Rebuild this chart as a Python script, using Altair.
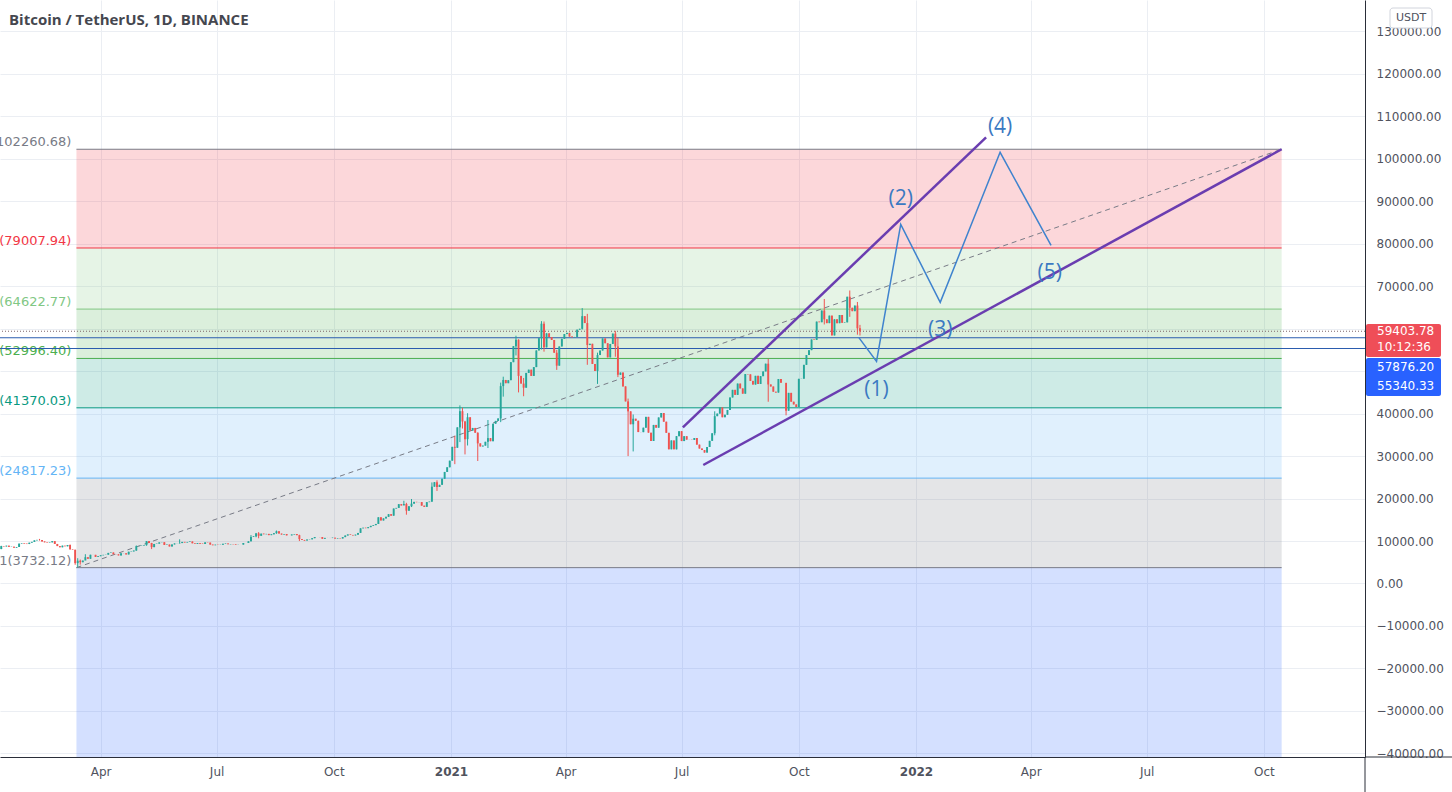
import altair as alt
import pandas as pd

# ---------------- data ----------------
TITLE = "Bitcoin / TetherUS, 1D, BINANCE"

# 2-day candles: (first close date of the block, closes every 2 days)
FIRST_OPEN = 8110
CLOSE_BLOCKS = [
    ("2020-01-14", [8810, 8720, 8900, 8630, 8680, 8440, 8600, 9390, 9500]),
    ("2020-02-01", [9380, 9290, 9610, 9800, 10160, 10270, 10240, 9900, 9700, 9600, 9690, 9970, 9310, 8810, 8530]),
    ("2020-03-02", [8910, 8760, 9070, 8040, 7940, 4800, 5360, 5010, 5400, 6190, 5820, 6770, 6750, 6250, 6430]),
    ("2020-04-01", [6640, 6740, 6780, 7200, 7300, 6890, 6860, 6620, 7100, 7120, 6840, 7480, 7550, 7760, 8790]),
    ("2020-05-01", [8830, 8900, 9020, 9990, 9540, 8560, 9310, 9380, 9680, 9720, 9080, 9170, 8720, 9200, 9430, 9450]),
    ("2020-06-02", [9520, 9790, 9660, 9780, 9890, 9470, 9330, 9530, 9380, 9300, 9690, 9630, 9160, 9010, 9140]),
    ("2020-07-02", [9090, 9130, 9340, 9430, 9240, 9300, 9250, 9130, 9160, 9160, 9530, 9540, 9930, 10950, 11100]),
    ("2020-08-01", [11800, 11230, 11740, 11600, 11680, 11390, 11580, 11850, 12300, 11750, 11530, 11650, 11330, 11330, 11540, 11650]),
    ("2020-09-02", [11380, 10460, 10250, 10100, 10350, 10400, 10670, 10940, 10940, 10920, 10530, 10740, 10730, 10700, 10780]),
    ("2020-10-02", [10580, 10680, 10600, 10920, 11300, 11550, 11430, 11320, 11500, 11920, 12990, 13130, 13030, 13270, 13570]),
    ("2020-11-01", [13740, 14020, 15590, 14840, 15330, 15700, 16320, 15970, 17650, 17800, 18680, 18370, 18720, 17150, 18180]),
    ("2020-12-01", [18800, 19220, 19150, 19170, 18330, 18050, 19160, 19270, 22800, 23860, 22730, 23240, 24670, 26270, 27370, 28920]),
    ("2021-01-02", [32180, 31970, 36770, 40580, 38150, 33990, 39150, 36010, 36630, 35500, 33000, 32270, 32470, 33370, 34240]),
    ("2021-02-01", [33510, 37620, 38290, 38870, 46480, 47930, 47170, 47880, 52120, 55890, 57410, 48890, 47080, 46110]),
    ("2021-03-01", [49590, 50350, 48880, 50960, 54880, 57780, 61180, 55610, 58910, 58030, 57350, 54340, 51300, 55820, 57620, 58740]),
    ("2021-04-02", [59020, 58150, 57990, 58060, 59770, 59980, 62960, 61330, 56150, 56450, 51700, 50050, 53800, 54860, 57700]),
    ("2021-05-02", [56580, 53250, 56410, 58850, 55820, 49150, 49670, 46420, 42880, 40540, 37500, 38800, 38330, 35660, 35640]),
    ("2021-06-01", [36690, 39240, 35520, 33560, 37340, 36690, 39100, 40150, 38100, 35480, 31600, 33690, 31590, 34700, 35870]),
    ("2021-07-01", [33540, 34690, 33880, 33860, 33810, 34260, 32700, 31780, 31420, 30830, 32140, 33590, 35380, 39400, 40010, 41460]),
    ("2021-08-02", [39150, 39740, 40870, 43810, 45600, 44420, 47080, 45940, 44700, 49320, 49250, 47710, 46850, 48900, 46990]),
    ("2021-09-01", [48830, 49940, 51760, 46870, 46390, 45160, 44960, 48140, 47260, 47260, 40690, 44890, 42810, 42170, 41560]),
    ("2021-10-01", [48200, 48230, 51490, 53800, 54950, 57470, 57350, 61670, 61530, 64280, 62210, 61310, 63080, 58420, 62210, 61300]),
    ("2021-11-02", [63230, 61400, 61500, 67530, 64930, 64130, 65450, 60090, 59404]),
]
# notable wicks: close date -> (low, high)
WICKS = {
    "2020-01-14": (8080, 8880), "2020-02-13": (10100, 10500), "2020-03-08": (7990, 9190),
    "2020-03-12": (4410, 7970), "2020-03-14": (3782, 5955), "2020-03-16": (4450, 5640),
    "2020-03-20": (5800, 6900), "2020-04-29": (7700, 8950), "2020-05-07": (8900, 10000),
    "2020-05-11": (8100, 9580), "2020-06-02": (9400, 10400), "2020-07-28": (9900, 11400),
    "2020-08-01": (10900, 11900), "2020-08-03": (10650, 12100), "2020-08-17": (11700, 12470),
    "2020-09-04": (10000, 11480), "2020-11-25": (18600, 19480), "2020-11-27": (16200, 19000),
    "2020-12-01": (18000, 19900), "2020-12-17": (19250, 23800), "2020-12-21": (21800, 24300),
    "2021-01-04": (28100, 34800), "2021-01-08": (33300, 41950), "2021-01-10": (36500, 41400),
    "2021-01-12": (30400, 38300), "2021-01-14": (32500, 40100), "2021-01-22": (28850, 35600),
    "2021-01-30": (31900, 38500), "2021-02-09": (38000, 47300), "2021-02-11": (44000, 48700),
    "2021-02-21": (53700, 58350), "2021-02-23": (45000, 57500), "2021-02-27": (44100, 48400),
    "2021-03-13": (55100, 61780), "2021-03-15": (54600, 61700), "2021-03-25": (50300, 55000),
    "2021-04-14": (59800, 64850), "2021-04-18": (51500, 63500), "2021-04-26": (47000, 54360),
    "2021-05-10": (53400, 59500), "2021-05-12": (48600, 57900), "2021-05-20": (30000, 43550),
    "2021-05-24": (31100, 39800), "2021-06-08": (31000, 36800), "2021-06-22": (28800, 35800),
    "2021-07-20": (29300, 31700), "2021-07-27": (34900, 40550), "2021-09-07": (42800, 52900),
    "2021-09-21": (39600, 43600), "2021-10-21": (61000, 67000), "2021-11-10": (62800, 69000),
    "2021-11-16": (58600, 66300), "2021-11-18": (58400, 60900),
}

# Fibonacci retracement
FIB_START, FIB_END = "2020-03-13", "2022-10-15"
FIB_RATIOS = ["0", "0.236", "0.382", "0.5", "0.618", "0.786", "1", "1.618"]
FIB_PRICES = [102260.68, 79007.94, 64622.77, 52996.40, 41370.03, 24817.23, 3732.12, -57158.53]
FIB_COLORS = ["#787B86", "#F23645", "#81C784", "#4CAF50", "#089981", "#64B5F6", "#787B86", "#2962FF"]

# horizontal price lines
LAST_PRICE = 59403.78
BLUE_LINES = [57876.20, 55340.33]

# channel lines (purple)
CH_NAMES = ["upper", "upper", "lower", "lower"]
CH_DATES = ["2021-07-02", "2022-02-25", "2021-07-18", "2022-10-15"]
CH_PRICES = [36750, 105080, 27900, 102260.68]

# projected wave path (blue)
WAVE_DATES = ["2021-11-17", "2021-12-01", "2021-12-20", "2022-01-20", "2022-03-08", "2022-04-17"]
WAVE_PRICES = [57960, 52300, 84580, 66200, 101540, 79630]
WAVE_LABELS = ["(1)", "(2)", "(3)", "(4)", "(5)"]
WAVE_LABEL_DATES = ["2021-12-01", "2021-12-20", "2022-01-20", "2022-03-08", "2022-04-16"]
WAVE_LABEL_PRICES = [45570, 90550, 59700, 107500, 73120]

# axes
X_TICKS = ["2020-04-01", "2020-07-01", "2020-10-01", "2021-01-01", "2021-04-01", "2021-07-01",
           "2021-10-01", "2022-01-01", "2022-04-01", "2022-07-01", "2022-10-01"]
Y_TICKS = list(range(-40000, 130001, 10000))
Y_HIDDEN = [50000, 60000]          # labels covered by the price badges
X_DOMAIN = ["2020-01-13T00:00:00", "2022-12-19T10:00:00"]
Y_DOMAIN = [-40860, 137410]

# ---------------- styling ----------------
W, H = 1365, 757
UP, DOWN = "#26A69A", "#EF5350"
FONT = "DejaVu Sans"
GRID = "#EBEEF3"
AXIS_LINE = "#2A2E39"
LABEL_COL = "#50535E"


def ms(s):
    return int(pd.Timestamp(s, tz="UTC").value // 10**6)


# candles table
rows = []
prev = FIRST_OPEN
for start, vals in CLOSE_BLOCKS:
    d0 = pd.Timestamp(start, tz="UTC")
    for i, c in enumerate(vals):
        d = d0 + pd.Timedelta(days=2 * i)
        key = d.strftime("%Y-%m-%d")
        lo, hi = WICKS.get(key, (min(prev, c), max(prev, c)))
        rows.append({"t": int(d.value // 10**6), "open": prev, "close": c,
                     "low": lo, "high": hi, "col": UP if c >= prev else DOWN})
        prev = c
candles = pd.DataFrame(rows)

fib_levels = pd.DataFrame({
    "t0": [ms(FIB_START)] * len(FIB_PRICES), "t1": [ms(FIB_END)] * len(FIB_PRICES),
    "p": FIB_PRICES, "col": FIB_COLORS,
    "label": [f"{r}({p:.2f})" for r, p in zip(FIB_RATIOS, FIB_PRICES)],
})
fib_bands = pd.DataFrame({
    "t0": [ms(FIB_START)] * (len(FIB_PRICES) - 1), "t1": [ms(FIB_END)] * (len(FIB_PRICES) - 1),
    "p0": FIB_PRICES[:-1], "p1": FIB_PRICES[1:], "col": FIB_COLORS[1:],
})
trend = pd.DataFrame({"t": [ms(FIB_START), ms(FIB_END)], "p": [FIB_PRICES[6], FIB_PRICES[0]]})
channel = pd.DataFrame({"name": CH_NAMES, "t": [ms(d) for d in CH_DATES], "p": CH_PRICES})
wave = pd.DataFrame({"t": [ms(d) for d in WAVE_DATES], "p": WAVE_PRICES})
wave_lab = pd.DataFrame({"t": [ms(d) for d in WAVE_LABEL_DATES], "p": WAVE_LABEL_PRICES,
                         "txt": WAVE_LABELS})
blue_lines = pd.DataFrame({"p": BLUE_LINES})
last_line = pd.DataFrame({"p": [LAST_PRICE]})
ONE = pd.DataFrame({"k": [0]})

xscale = alt.Scale(type="utc", domain=[ms(X_DOMAIN[0]), ms(X_DOMAIN[1])])
yscale = alt.Scale(domain=Y_DOMAIN, nice=False, zero=False)

hidden_test = " || ".join(f"datum.value == {v}" for v in Y_HIDDEN)

x_axis = alt.Axis(
    values=[ms(d) for d in X_TICKS], title=None, grid=True, gridColor=GRID, ticks=False,
    domainColor=AXIS_LINE, labelColor=LABEL_COL, labelFont=FONT, labelFontSize=12,
    labelPadding=9, labelOverlap=False, labelFlush=False,
    labelExpr="utcmonth(datum.value) == 0 ? utcFormat(datum.value, '%Y') : utcFormat(datum.value, '%b')",
    labelFontWeight={"condition": {"test": "utcmonth(datum.value) == 0", "value": "bold"}, "value": "normal"},
)
y_axis = alt.Axis(
    values=Y_TICKS, orient="right", title=None, grid=True, gridColor=GRID,
    ticks=False, domainColor=AXIS_LINE, labelColor=LABEL_COL, labelFont=FONT, labelFontSize=12,
    labelPadding=11, labelAlign="left", labelOverlap=False, labelFlush=False,
    labelExpr=f"({hidden_test}) ? '' : format(datum.value, '.2f')",
)


def X(field):
    return alt.X(field, type="temporal", scale=xscale, axis=x_axis)


def Y(field):
    return alt.Y(field, type="quantitative", scale=yscale, axis=y_axis)


bands = alt.Chart(fib_bands).mark_rect(clip=True, opacity=0.2).encode(
    x=X("t0"), x2="t1", y=Y("p0"), y2="p1",
    fill=alt.Fill("col:N", scale=None),
)
levels = alt.Chart(fib_levels).mark_rule(clip=True, strokeWidth=1).encode(
    x=X("t0"), x2="t1", y=Y("p"), color=alt.Color("col:N", scale=None),
)
level_labels = alt.Chart(fib_levels).mark_text(
    clip=True, align="right", baseline="bottom", dx=-5, dy=0, fontSize=13, font=FONT,
).encode(x=X("t0"), y=Y("p"), text="label:N", color=alt.Color("col:N", scale=None))

trend_line = alt.Chart(trend).mark_line(
    clip=True, color="#787B86", strokeWidth=1, strokeDash=[5, 4]
).encode(x=X("t"), y=Y("p"))

last_rule = alt.Chart(last_line).mark_rule(
    clip=True, color="#7D6468", strokeWidth=1, strokeDash=[1, 2]
).encode(y=Y("p"))
blue_rules = alt.Chart(blue_lines).mark_rule(clip=True, color="#2B5CAE", strokeWidth=1.2).encode(y=Y("p"))

wicks = alt.Chart(candles).mark_rule(clip=True, strokeWidth=1).encode(
    x=X("t"), y=Y("low"), y2="high", color=alt.Color("col:N", scale=None),
)
bodies = alt.Chart(candles).mark_rule(clip=True, strokeWidth=1.9).encode(
    x=X("t"), y=Y("open"), y2="close", color=alt.Color("col:N", scale=None),
)

channel_lines = alt.Chart(channel).mark_line(clip=True, color="#6A3DB0", strokeWidth=2.5).encode(
    x=X("t"), y=Y("p"), detail="name:N",
)
wave_line = alt.Chart(wave).mark_line(clip=True, color="#3F83CE", strokeWidth=1.5).encode(
    x=X("t"), y=Y("p"),
)
wave_text = alt.Chart(wave_lab).mark_text(
    clip=True, fontSize=21, font="Open Sans", color="#3B79C2", align="center", baseline="middle",
).encode(x=X("t"), y=Y("p"), text="txt:N")

title = alt.Chart(ONE).mark_text(
    align="left", baseline="middle", fontSize=15, font="Open Sans", fontWeight="bold", color="#45474F",
).encode(x=alt.value(9), y=alt.value(20), text=alt.value(TITLE))

usdt_box = alt.Chart(ONE).mark_rect(fill="white", stroke="#D1D4DC", cornerRadius=3).encode(
    x=alt.value(1390), x2=alt.value(1432), y=alt.value(8), y2=alt.value(28))
usdt_txt = alt.Chart(ONE).mark_text(fontSize=11, font=FONT, color=LABEL_COL, baseline="middle").encode(
    x=alt.value(1411), y=alt.value(18), text=alt.value("USDT"))

red_box = alt.Chart(ONE).mark_rect(fill="#EF4E58", cornerRadius=2).encode(
    x=alt.value(1366), x2=alt.value(1441), y=alt.value(324), y2=alt.value(357))
red_txt = alt.Chart(ONE).mark_text(
    fontSize=12, font=FONT, color="white", align="left", baseline="top", lineBreak="\n", lineHeight=16,
).encode(x=alt.value(1377), y=alt.value(326), text=alt.value(f"{LAST_PRICE:.2f}\n10:12:36"))
blue_box = alt.Chart(ONE).mark_rect(fill="#2962FF", cornerRadius=2).encode(
    x=alt.value(1366), x2=alt.value(1441), y=alt.value(358), y2=alt.value(396))
blue_txt = alt.Chart(ONE).mark_text(
    fontSize=12, font=FONT, color="white", align="left", baseline="top", lineBreak="\n", lineHeight=19,
).encode(x=alt.value(1377), y=alt.value(362),
         text=alt.value(f"{BLUE_LINES[0]:.2f}\n{BLUE_LINES[1]:.2f}"))

h_ext = alt.Chart(ONE).mark_rule(color=AXIS_LINE, strokeWidth=1).encode(
    x=alt.value(W), x2=alt.value(1452), y=alt.value(H))
v_ext = alt.Chart(ONE).mark_rule(color=AXIS_LINE, strokeWidth=1).encode(
    x=alt.value(W), y=alt.value(H), y2=alt.value(792))

chart = alt.layer(
    bands, levels, level_labels, trend_line, last_rule, blue_rules, wicks, bodies,
    channel_lines, wave_line, wave_text, title, usdt_box, usdt_txt,
    red_box, red_txt, blue_box, blue_txt, h_ext, v_ext,
).properties(
    width=W, height=H,
    padding={"left": 0, "top": 0, "right": 87, "bottom": 35},
    autosize=alt.AutoSizeParams(type="none"),
    background="white",
).configure_view(strokeWidth=0)

chart.save("out.html", embed_options={"renderer": "svg", "actions": False})
